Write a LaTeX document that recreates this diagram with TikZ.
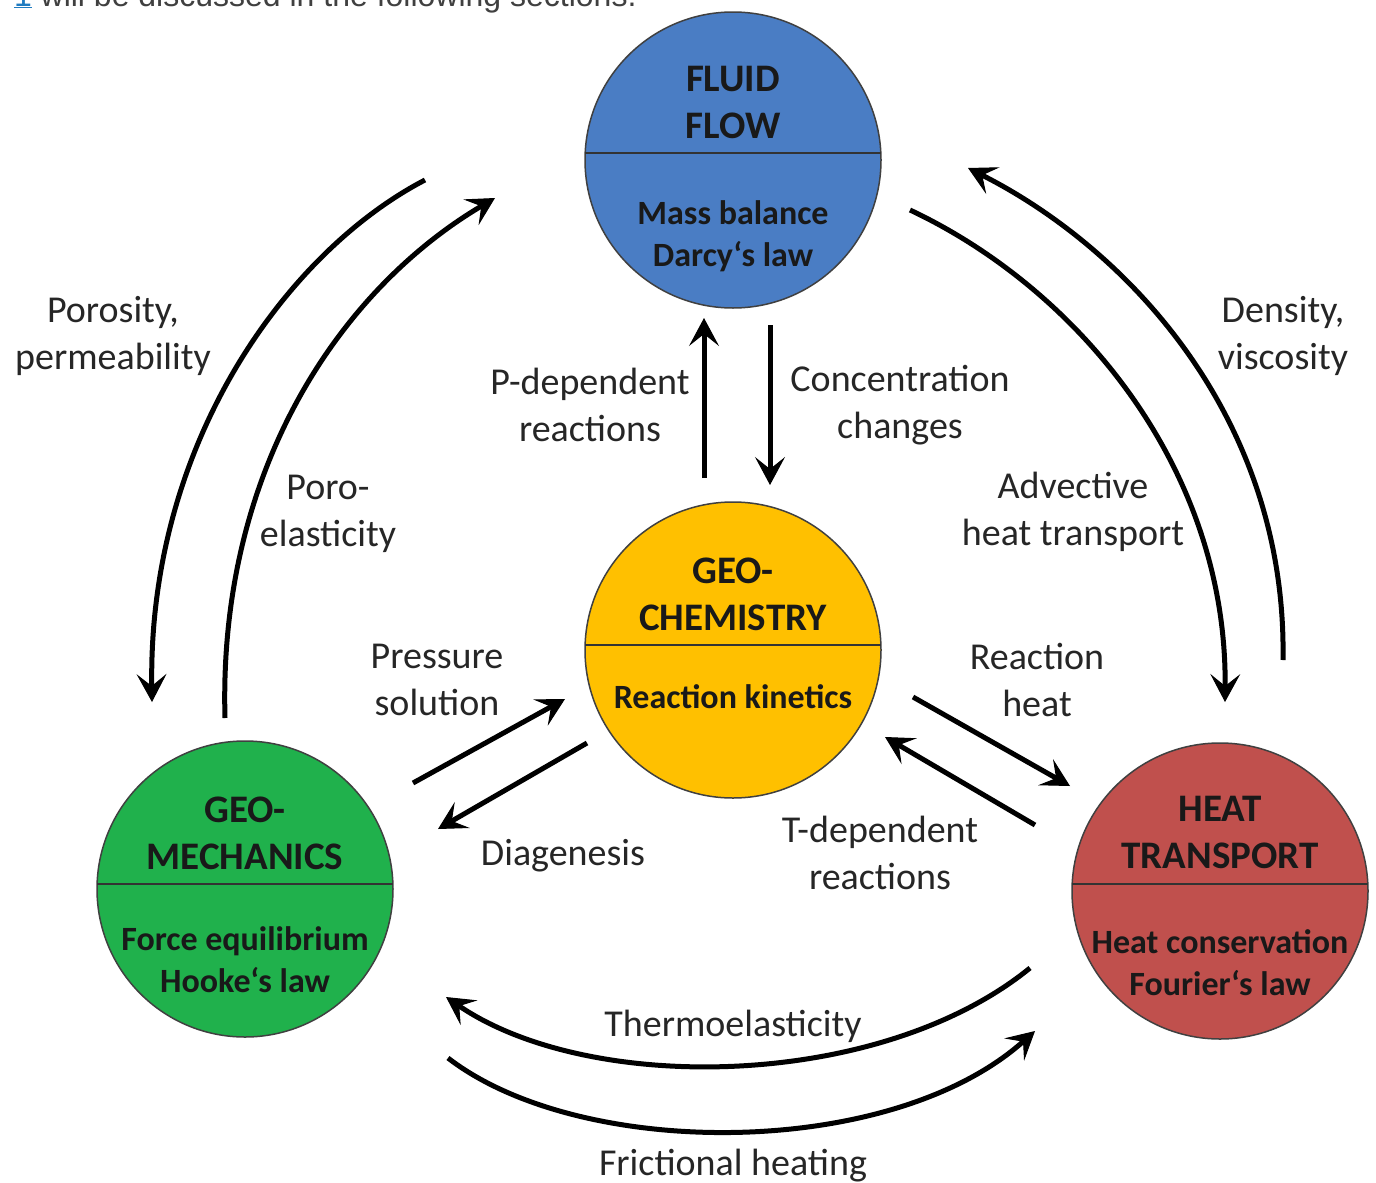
\documentclass[tikz,border=0pt]{standalone}
\usepackage{fontspec}
\setmainfont{Carlito}
\newfontfamily\topfont{Liberation Sans}
\usetikzlibrary{arrows.meta,calc}
\definecolor{cblue}{HTML}{4A7DC4}
\definecolor{cyellow}{HTML}{FFC000}
\definecolor{cgreen}{HTML}{20B14C}
\definecolor{cred}{HTML}{C0504D}
\definecolor{clink}{HTML}{1F7BC0}
\begin{document}
\begin{tikzpicture}[x=1pt,y=-1pt,
  every node/.style={inner sep=0pt,outer sep=0pt},
  circ/.style={circle, minimum size=296pt, draw=black!75, line width=1.5pt},
  lbltxt/.style={align=center, font=\fontsize{38}{47}\selectfont, text=black!85},
  ttltxt/.style={align=center, font=\fontsize{39}{47}\selectfont\bfseries, text=black!90},
  subtxt/.style={align=center, font=\fontsize{34}{42}\selectfont\bfseries, text=black!90},
  arr/.style={line width=5pt, -{Stealth[length=28pt,width=30pt,inset=12pt,line width=1pt]}},
  divider/.style={line width=2pt, draw=black!80}
]
\useasboundingbox[fill=white] (0,0) rectangle (1376,1183);

% partial caption line at top
\node[anchor=base west, font=\fontsize{32}{36}\selectfont\topfont, text=black!75] (cap) at (14,6)
  {\textcolor{clink}{\underline{1}} will be discussed in the following sections.};

% circles
\node[circ, fill=cblue] (fluid) at (733,160) {};
\node[circ, fill=cyellow] (chem) at (733,650) {};
\node[circ, fill=cgreen] (mech) at (245,889) {};
\node[circ, fill=cred] (heat) at (1220,891) {};

\draw[divider] ($(fluid.center)+(-147.8,-7)$) -- ($(fluid.center)+(147.8,-7)$);
\draw[divider] ($(chem.center)+(-147.9,-5)$) -- ($(chem.center)+(147.9,-5)$);
\draw[divider] ($(mech.center)+(-147.9,-5)$) -- ($(mech.center)+(147.9,-5)$);
\draw[divider] ($(heat.center)+(-147.8,-7)$) -- ($(heat.center)+(147.8,-7)$);

\node[ttltxt] (fluidT) at (733,102) {FLUID\\FLOW};
\node[subtxt] (fluidB) at (733,236) {Mass balance\\Darcy‘s law};
\node[ttltxt] (chemT) at (733,594) {GEO-\\CHEMISTRY};
\node[subtxt] (chemB) at (733,697) {Reaction kinetics};
\node[ttltxt] (mechT) at (245,833) {GEO-\\MECHANICS};
\node[subtxt] (mechB) at (245,960) {Force equilibrium\\Hooke‘s law};
\node[ttltxt] (heatT) at (1220,832) {HEAT\\TRANSPORT};
\node[subtxt] (heatB) at (1220,963) {Heat conservation\\Fourier‘s law};

% labels
\node[lbltxt] (lporo) at (113,336) {Porosity,\\permeability};
\node[lbltxt] (lpel) at (328,514) {Poro-\\elasticity};
\node[lbltxt] (lpdep) at (590,405) {P-dependent\\reactions};
\node[lbltxt] (lconc) at (900,405) {Concentration\\changes};
\node[lbltxt] (ldens) at (1283,336) {Density,\\viscosity};
\node[lbltxt] (ladv) at (1073,512) {Advective\\heat transport};
\node[lbltxt] (lpress) at (437,680) {Pressure\\solution};
\node[lbltxt] (lrheat) at (1037,680) {Reaction\\heat};
\node[lbltxt] (ldiag) at (563,856) {Diagenesis};
\node[lbltxt] (ltdep) at (880,853) {T-dependent\\reactions};
\node[lbltxt] (lthermo) at (733,1026) {Thermoelasticity};
\node[lbltxt] (lfric) at (733,1166) {Frictional heating};

% arrow end points
\coordinate (a1s) at (425,180);  \coordinate (a1e) at (152,702);
\coordinate (a2s) at (225,718);  \coordinate (a2e) at (495,198);
\coordinate (a3s) at (704,478);  \coordinate (a3e) at (704,318);
\coordinate (a4s) at (770,325);  \coordinate (a4e) at (770,485);
\coordinate (a5s) at (910,210);  \coordinate (a5e) at (1225,702);
\coordinate (a6s) at (1283,660); \coordinate (a6e) at (968,168);
\coordinate (a7s) at (413,783);  \coordinate (a7e) at (565,699);
\coordinate (a8s) at (587,743);  \coordinate (a8e) at (438,829);
\coordinate (a9s) at (913,697);  \coordinate (a9e) at (1070,786);
\coordinate (a10s) at (1035,825); \coordinate (a10e) at (885,737);
\coordinate (a11s) at (1030,968); \coordinate (a11e) at (446,997);
\coordinate (a12s) at (448,1058); \coordinate (a12e) at (1035,1031);

\draw[arr] (a1s) .. controls (290,250) and (148,440) .. (a1e);
\draw[arr] (a2s) .. controls (218,470) and (340,290) .. (a2e);
\draw[arr] (a3s) -- (a3e);
\draw[arr] (a4s) -- (a4e);
\draw[arr] (a5s) .. controls (1080,290) and (1227,470) .. (a5e);
\draw[arr] (a6s) .. controls (1287,420) and (1130,250) .. (a6e);
\draw[arr] (a7s) -- (a7e);
\draw[arr] (a8s) -- (a8e);
\draw[arr] (a9s) -- (a9e);
\draw[arr] (a10s) -- (a10e);
\draw[arr] (a11s) .. controls (880,1090) and (590,1095) .. (a11e);
\draw[arr] (a12s) .. controls (580,1160) and (890,1160) .. (a12e);
\end{tikzpicture}
\end{document}
